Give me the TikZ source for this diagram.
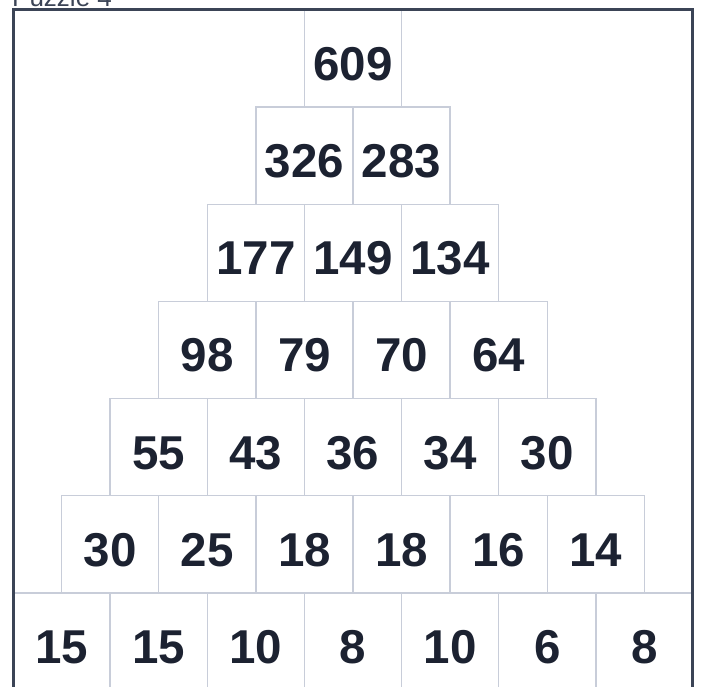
\documentclass[tikz,border=0pt]{standalone}
\usepackage{fontspec}
\setmainfont{Liberation Sans}
\usepackage{xcolor}
\definecolor{framecol}{HTML}{3B4456}
\definecolor{cellline}{HTML}{C8CDD9}
\definecolor{numcol}{HTML}{1C2231}
\tikzset{
	cell/.style={rectangle, draw=cellline, line width=1.4pt, minimum size=97.14pt, inner sep=0pt,
		text=numcol, font=\fontsize{47.5}{47.5}\selectfont\bfseries, text height=44pt, text depth=0pt},
	frameline/.style={draw=framecol, line width=3pt},
}
\begin{document}
\begin{tikzpicture}[x=97.14pt, y=97.14pt]
				
				\useasboundingbox (0pt,0pt) rectangle (701pt,686pt);
				
				\node[anchor=base west, inner sep=0pt, text=framecol, font=\fontsize{26}{26}\selectfont] (title) at (12pt,679.5pt) {Puzzle 4};
				
				\begin{scope}[shift={(13pt,676pt)}]
					\tikzstyle{every node}=[cell]
					
					\node (a1) at (3.5,-0.5) {609};
					
					\node (b1) at (3,-1.5) {326};
					\node (b2) at (4,-1.5) {283};
					
					\node (c1) at (2.5,-2.5) {177};
					\node (c2) at (3.5,-2.5) {149};
					\node (c3) at (4.5,-2.5) {134};
					
					\node (d1) at (2,-3.5) {98};
					\node (d2) at (3,-3.5) {79};
					\node (d3) at (4,-3.5) {70};
					\node (d4) at (5,-3.5) {64};
					
					\node (e1) at (1.5,-4.5) {55};
					\node (e2) at (2.5,-4.5) {43};
					\node (e3) at (3.5,-4.5) {36};
					\node (e4) at (4.5,-4.5) {34};
					\node (e5) at (5.5,-4.5) {30};
					
					\node (f1) at (1,-5.5) {30};
					\node (f2) at (2,-5.5) {25};
					\node (f3) at (3,-5.5) {18};
					\node (f4) at (4,-5.5) {18};
					\node (f5) at (5,-5.5) {16};
					\node (f6) at (6,-5.5) {14};
					
					\node (g1) at (0.5,-6.5) {15};
					\node (g2) at (1.5,-6.5) {15};
					\node (g3) at (2.5,-6.5) {10};
					\node (g4) at (3.5,-6.5) {8};
					\node (g5) at (4.5,-6.5) {10};
					\node (g6) at (5.5,-6.5) {6};
					\node (g7) at (6.5,-6.5) {8};
					
					% outer frame, runs off the bottom edge
					\coordinate (ftop) at (0,0);
					\coordinate (fbot) at (7,-7.2);
					\draw[frameline] (ftop) rectangle (fbot);
				\end{scope}
				
			\end{tikzpicture}
\end{document}
